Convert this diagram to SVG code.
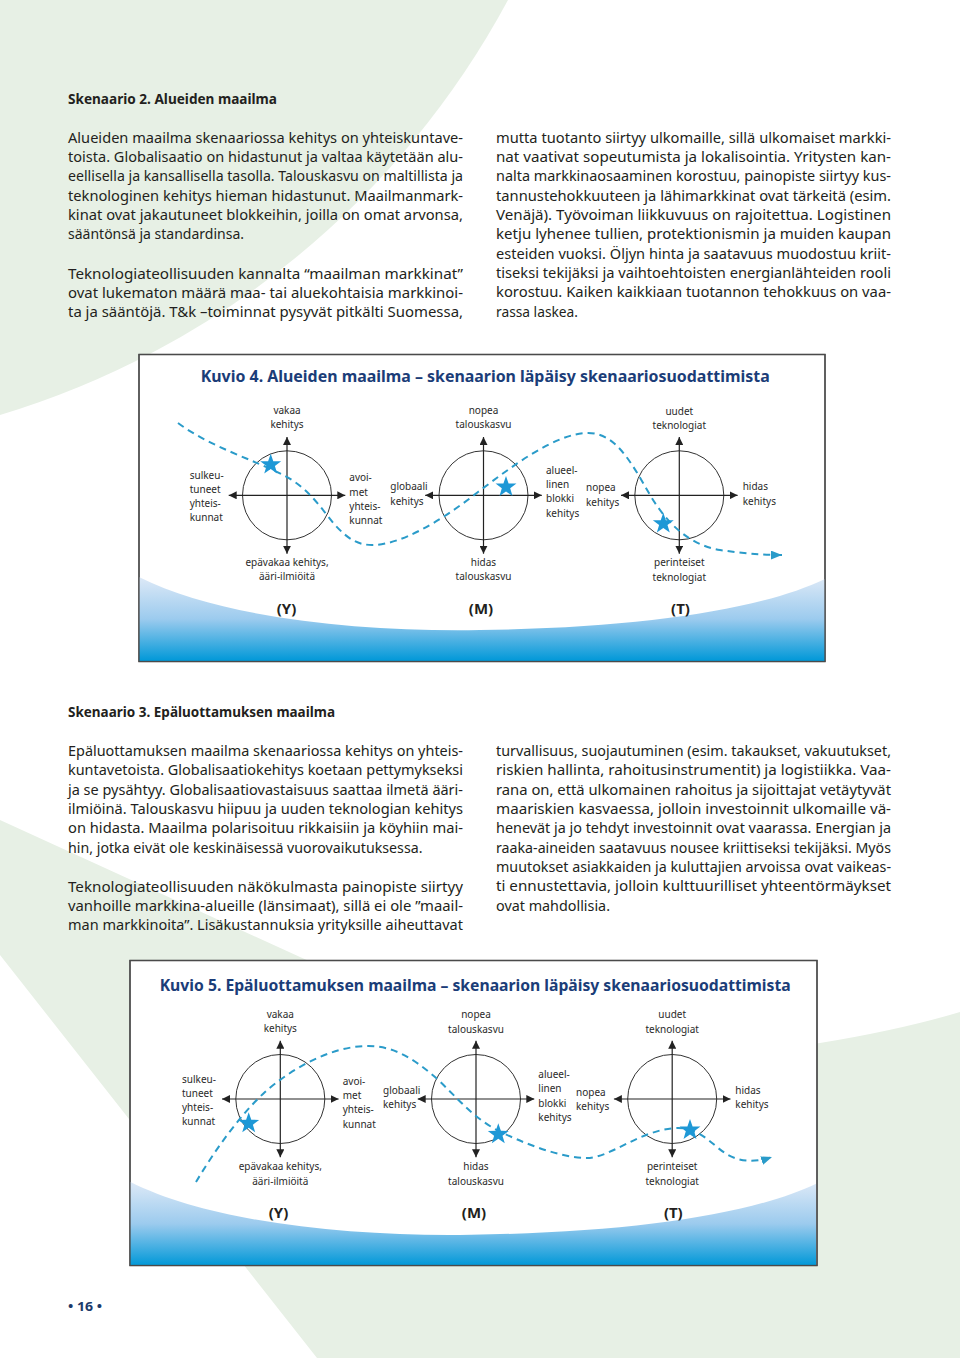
<svg xmlns="http://www.w3.org/2000/svg" width="960" height="1358" viewBox="0 0 960 1358">
<defs>
<style>
.body{font-family:"Noto Sans","Open Sans",sans-serif;font-size:13.5px;fill:#231f20}
.hd{font-weight:bold}
.lbl{font-family:"Noto Sans","Open Sans",sans-serif;font-size:10px;fill:#2a2a2a}
.mid{text-anchor:middle}
.big{font-family:"Noto Sans","Open Sans",sans-serif;font-size:15px;font-weight:bold;fill:#231f20;text-anchor:middle}
.title{font-family:"Noto Sans","Open Sans",sans-serif;font-weight:bold;font-size:16.5px;fill:#1b3d78}
.ax{stroke:#222;stroke-width:1.2;marker-start:url(#ah);marker-end:url(#ah)}
.circ{fill:none;stroke:#333;stroke-width:1}
.dash{fill:none;stroke:#2a9bc9;stroke-width:2;stroke-dasharray:7 5;marker-end:url(#dh)}
.star{fill:#1e98d6}
.box{fill:#fff;stroke:#4a4a4a;stroke-width:1.3}
.green{fill:#e7f0e5}
.pg{font-family:"Noto Sans","Open Sans",sans-serif;font-size:13px;font-weight:bold;fill:#1b3a6b}
</style>
<marker id="ah" viewBox="0 0 8 8" refX="8" refY="4" markerWidth="8" markerHeight="8" markerUnits="userSpaceOnUse" orient="auto-start-reverse"><path d="M0,0 L8,4 L0,8 z" fill="#222"/></marker>
<marker id="dh" viewBox="0 0 10 8" refX="10" refY="4" markerWidth="11" markerHeight="9" markerUnits="userSpaceOnUse" orient="auto"><path d="M0,0 L10,4 L0,8 z" fill="#2a9bc9"/></marker>
<linearGradient id="wave" x1="0" y1="0" x2="0" y2="1">
<stop offset="0" stop-color="#dde9f7"/>
<stop offset="0.5" stop-color="#9ccbee"/>
<stop offset="1" stop-color="#0098d8"/>
</linearGradient>
<path id="star" d="M0,-11 L2.59,-3.56 L10.46,-3.4 L4.19,1.36 L6.47,8.9 L0,4.4 L-6.47,8.9 L-4.19,1.36 L-10.46,-3.4 L-2.59,-3.56 Z"/>
<path id="wv" d="M139,577 C 220,618 360,632 480,630 C 640,628 760,610 825,579 L825,661 L139,661 Z"/>
</defs>

<rect width="960" height="1358" fill="#fff"/>
<g id="background">
<path class="green" d="M0,0 L508,0 A857.7,857.7 0 0 1 0,415 Z"/>
<path class="green" d="M0,820 L300,957 Q560,1080 820,1043 Q900,1030 960,1012 L960,1358 L317,1358 L0,955 Z"/>
</g>

<g id="text-scenario2" class="body">
<text class="hd" x="68" y="104" textLength="209" lengthAdjust="spacingAndGlyphs">Skenaario 2. Alueiden maailma</text>
<text x="68" y="142.7" textLength="395" lengthAdjust="spacingAndGlyphs">Alueiden maailma skenaariossa kehitys on yhteiskuntave-</text>
<text x="68" y="162" textLength="395" lengthAdjust="spacingAndGlyphs">toista. Globalisaatio on hidastunut ja valtaa käytetään alu-</text>
<text x="68" y="181.3" textLength="395" lengthAdjust="spacingAndGlyphs">eellisella ja kansallisella tasolla. Talouskasvu on maltillista ja</text>
<text x="68" y="200.7" textLength="395" lengthAdjust="spacingAndGlyphs">teknologinen kehitys hieman hidastunut. Maailmanmark-</text>
<text x="68" y="220" textLength="395" lengthAdjust="spacingAndGlyphs">kinat ovat jakautuneet blokkeihin, joilla on omat arvonsa,</text>
<text x="68" y="239.3" textLength="176" lengthAdjust="spacingAndGlyphs">sääntönsä ja standardinsa.</text>
<text x="68" y="278.5" textLength="395" lengthAdjust="spacingAndGlyphs">Teknologiateollisuuden kannalta “maailman markkinat”</text>
<text x="68" y="297.8" textLength="395" lengthAdjust="spacingAndGlyphs">ovat lukematon määrä maa- tai aluekohtaisia markkinoi-</text>
<text x="68" y="317.1" textLength="395" lengthAdjust="spacingAndGlyphs">ta ja sääntöjä. T&amp;k –toiminnat pysyvät pitkälti Suomessa,</text>
<text x="496" y="142.7" textLength="395" lengthAdjust="spacingAndGlyphs">mutta tuotanto siirtyy ulkomaille, sillä ulkomaiset markki-</text>
<text x="496" y="162" textLength="395" lengthAdjust="spacingAndGlyphs">nat vaativat sopeutumista ja lokalisointia. Yritysten kan-</text>
<text x="496" y="181.3" textLength="395" lengthAdjust="spacingAndGlyphs">nalta markkinaosaaminen korostuu, painopiste siirtyy kus-</text>
<text x="496" y="200.7" textLength="395" lengthAdjust="spacingAndGlyphs">tannustehokkuuteen ja lähimarkkinat ovat tärkeitä (esim.</text>
<text x="496" y="220" textLength="395" lengthAdjust="spacingAndGlyphs">Venäjä). Työvoiman liikkuvuus on rajoitettua. Logistinen</text>
<text x="496" y="239.3" textLength="395" lengthAdjust="spacingAndGlyphs">ketju lyhenee tullien, protektionismin ja muiden kaupan</text>
<text x="496" y="258.7" textLength="395" lengthAdjust="spacingAndGlyphs">esteiden vuoksi. Öljyn hinta ja saatavuus muodostuu kriit-</text>
<text x="496" y="278" textLength="395" lengthAdjust="spacingAndGlyphs">tiseksi tekijäksi ja vaihtoehtoisten energianlähteiden rooli</text>
<text x="496" y="297.3" textLength="395" lengthAdjust="spacingAndGlyphs">korostuu. Kaiken kaikkiaan tuotannon tehokkuus on vaa-</text>
<text x="496" y="316.7" textLength="82" lengthAdjust="spacingAndGlyphs">rassa laskea.</text>
</g>

<g id="figure4">
<rect class="box" x="139" y="354.5" width="686" height="307"/>
<use href="#wv" fill="url(#wave)"/>
<rect x="139" y="354.5" width="686" height="307" fill="none" stroke="#4a4a4a" stroke-width="1.3"/>
<text class="title" x="200.7" y="381.5" textLength="569" lengthAdjust="spacingAndGlyphs">Kuvio 4. Alueiden maailma – skenaarion läpäisy skenaariosuodattimista</text>
<g id="f4-filterY">
<circle class="circ" cx="287" cy="495.3" r="44.5"/>
<line class="ax" x1="287" y1="437" x2="287" y2="553.7"/>
<line class="ax" x1="228.7" y1="495.3" x2="345.3" y2="495.3"/>
<text class="lbl mid" x="287" y="413.7">vakaa</text>
<text class="lbl mid" x="287" y="428">kehitys</text>
<text class="lbl" x="189.7" y="478.7">sulkeu-</text>
<text class="lbl" x="189.7" y="492.7">tuneet</text>
<text class="lbl" x="189.7" y="507">yhteis-</text>
<text class="lbl" x="189.7" y="521">kunnat</text>
<text class="lbl" x="349.3" y="481.3">avoi-</text>
<text class="lbl" x="349.3" y="495.7">met</text>
<text class="lbl" x="349.3" y="510">yhteis-</text>
<text class="lbl" x="349.3" y="524.3">kunnat</text>
<text class="lbl mid" x="287" y="566">epävakaa kehitys,</text>
<text class="lbl mid" x="287" y="580.3">ääri-ilmiöitä</text>
<text class="big" x="286.5" y="613.7">(Y)</text>
</g>
<g id="f4-filterM">
<circle class="circ" cx="483.5" cy="495.3" r="44.5"/>
<line class="ax" x1="483.5" y1="437" x2="483.5" y2="553.7"/>
<line class="ax" x1="425.2" y1="495.3" x2="541.8" y2="495.3"/>
<text class="lbl mid" x="483.5" y="413.7">nopea</text>
<text class="lbl mid" x="483.5" y="428">talouskasvu</text>
<text class="lbl" x="390.3" y="490.3">globaali</text>
<text class="lbl" x="390.3" y="504.7">kehitys</text>
<text class="lbl" x="546" y="473.7">alueel-</text>
<text class="lbl" x="546" y="488">linen</text>
<text class="lbl" x="546" y="502.3">blokki</text>
<text class="lbl" x="546" y="516.7">kehitys</text>
<text class="lbl mid" x="483.5" y="566">hidas</text>
<text class="lbl mid" x="483.5" y="580.3">talouskasvu</text>
<text class="big" x="481" y="613.7">(M)</text>
</g>
<g id="f4-filterT">
<circle class="circ" cx="679.3" cy="495.3" r="44.5"/>
<line class="ax" x1="679.3" y1="437" x2="679.3" y2="553.7"/>
<line class="ax" x1="621" y1="495.3" x2="737.6" y2="495.3"/>
<text class="lbl mid" x="679.3" y="414.5">uudet</text>
<text class="lbl mid" x="679.3" y="429">teknologiat</text>
<text class="lbl" x="586" y="491.3">nopea</text>
<text class="lbl" x="586" y="505.7">kehitys</text>
<text class="lbl" x="742.7" y="490.3">hidas</text>
<text class="lbl" x="742.7" y="504.7">kehitys</text>
<text class="lbl mid" x="679.3" y="566.3">perinteiset</text>
<text class="lbl mid" x="679.3" y="581">teknologiat</text>
<text class="big" x="680.5" y="613.7">(T)</text>
</g>
<g id="f4-connectors">
<path class="dash" d="M178,423 C 210,447 255,460 285,476 C 310,489 322,510 335,525 C 347,538 357,545 372,545 C 400,545 440,522 478,492 C 510,468 555,433 588,433 C 615,433 630,460 650,495 C 668,525 690,545 720,550 C 740,553 760,555 782,555"/>
</g>
<g id="f4-stars">
<use href="#star" class="star" x="270.7" y="464.7"/>
<use href="#star" class="star" x="506" y="487"/>
<use href="#star" class="star" x="663.3" y="523.7"/>
</g>
</g>

<g id="text-scenario3" class="body">
<text class="hd" x="68" y="716.7" textLength="267" lengthAdjust="spacingAndGlyphs">Skenaario 3. Epäluottamuksen maailma</text>
<text x="68" y="756" textLength="395" lengthAdjust="spacingAndGlyphs">Epäluottamuksen maailma skenaariossa kehitys on yhteis-</text>
<text x="68" y="775.3" textLength="395" lengthAdjust="spacingAndGlyphs">kuntavetoista. Globalisaatiokehitys koetaan pettymykseksi</text>
<text x="68" y="794.7" textLength="395" lengthAdjust="spacingAndGlyphs">ja se pysähtyy. Globalisaatiovastaisuus saattaa ilmetä ääri-</text>
<text x="68" y="814" textLength="395" lengthAdjust="spacingAndGlyphs">ilmiöinä. Talouskasvu hiipuu ja uuden teknologian kehitys</text>
<text x="68" y="833.3" textLength="395" lengthAdjust="spacingAndGlyphs">on hidasta. Maailma polarisoituu rikkaisiin ja köyhiin mai-</text>
<text x="68" y="852.7" textLength="354.5" lengthAdjust="spacingAndGlyphs">hin, jotka eivät ole keskinäisessä vuorovaikutuksessa.</text>
<text x="68" y="891.7" textLength="395" lengthAdjust="spacingAndGlyphs">Teknologiateollisuuden näkökulmasta painopiste siirtyy</text>
<text x="68" y="911" textLength="395" lengthAdjust="spacingAndGlyphs">vanhoille markkina-alueille (länsimaat), sillä ei ole ”maail-</text>
<text x="68" y="930.3" textLength="395" lengthAdjust="spacingAndGlyphs">man markkinoita”. Lisäkustannuksia yrityksille aiheuttavat</text>
<text x="496" y="756" textLength="395" lengthAdjust="spacingAndGlyphs">turvallisuus, suojautuminen (esim. takaukset, vakuutukset,</text>
<text x="496" y="775.3" textLength="395" lengthAdjust="spacingAndGlyphs">riskien hallinta, rahoitusinstrumentit) ja logistiikka. Vaa-</text>
<text x="496" y="794.7" textLength="395" lengthAdjust="spacingAndGlyphs">rana on, että ulkomainen rahoitus ja sijoittajat vetäytyvät</text>
<text x="496" y="814" textLength="395" lengthAdjust="spacingAndGlyphs">maariskien kasvaessa, jolloin investoinnit ulkomaille vä-</text>
<text x="496" y="833.3" textLength="395" lengthAdjust="spacingAndGlyphs">henevät ja jo tehdyt investoinnit ovat vaarassa. Energian ja</text>
<text x="496" y="852.7" textLength="395" lengthAdjust="spacingAndGlyphs">raaka-aineiden saatavuus nousee kriittiseksi tekijäksi. Myös</text>
<text x="496" y="872" textLength="395" lengthAdjust="spacingAndGlyphs">muutokset asiakkaiden ja kuluttajien arvoissa ovat vaikeas-</text>
<text x="496" y="891.3" textLength="395" lengthAdjust="spacingAndGlyphs">ti ennustettavia, jolloin kulttuurilliset yhteentörmäykset</text>
<text x="496" y="910.7" textLength="114" lengthAdjust="spacingAndGlyphs">ovat mahdollisia.</text>
</g>

<g id="figure5">
<rect class="box" x="130" y="960.5" width="687" height="305"/>
<use href="#wv" fill="url(#wave)" transform="translate(-9,604.7)"/>
<rect x="130" y="960.5" width="687" height="305" fill="none" stroke="#4a4a4a" stroke-width="1.3"/>
<text class="title" x="159.7" y="991" textLength="631" lengthAdjust="spacingAndGlyphs">Kuvio 5. Epäluottamuksen maailma – skenaarion läpäisy skenaariosuodattimista</text>
<g id="f5-filterY">
<circle class="circ" cx="280.3" cy="1099" r="44.5"/>
<line class="ax" x1="280.3" y1="1040.7" x2="280.3" y2="1157.3"/>
<line class="ax" x1="222" y1="1099" x2="338.6" y2="1099"/>
<text class="lbl mid" x="280.3" y="1018.3">vakaa</text>
<text class="lbl mid" x="280.3" y="1032.3">kehitys</text>
<text class="lbl" x="182" y="1083.3">sulkeu-</text>
<text class="lbl" x="182" y="1097">tuneet</text>
<text class="lbl" x="182" y="1111">yhteis-</text>
<text class="lbl" x="182" y="1125">kunnat</text>
<text class="lbl" x="342.7" y="1085">avoi-</text>
<text class="lbl" x="342.7" y="1099">met</text>
<text class="lbl" x="342.7" y="1113.3">yhteis-</text>
<text class="lbl" x="342.7" y="1128">kunnat</text>
<text class="lbl mid" x="280.3" y="1170">epävakaa kehitys,</text>
<text class="lbl mid" x="280.3" y="1185">ääri-ilmiöitä</text>
<text class="big" x="278.5" y="1218">(Y)</text>
</g>
<g id="f5-filterM">
<circle class="circ" cx="476" cy="1099" r="44.5"/>
<line class="ax" x1="476" y1="1040.7" x2="476" y2="1157.3"/>
<line class="ax" x1="417.7" y1="1099" x2="534.3" y2="1099"/>
<text class="lbl mid" x="476" y="1018.3">nopea</text>
<text class="lbl mid" x="476" y="1032.5">talouskasvu</text>
<text class="lbl" x="383" y="1094.3">globaali</text>
<text class="lbl" x="383" y="1108.3">kehitys</text>
<text class="lbl" x="538.3" y="1078.3">alueel-</text>
<text class="lbl" x="538.3" y="1092.3">linen</text>
<text class="lbl" x="538.3" y="1106.7">blokki</text>
<text class="lbl" x="538.3" y="1121">kehitys</text>
<text class="lbl mid" x="476" y="1170">hidas</text>
<text class="lbl mid" x="476" y="1185">talouskasvu</text>
<text class="big" x="474" y="1218">(M)</text>
</g>
<g id="f5-filterT">
<circle class="circ" cx="672.2" cy="1099" r="44.5"/>
<line class="ax" x1="672.2" y1="1040.7" x2="672.2" y2="1157.3"/>
<line class="ax" x1="613.9" y1="1099" x2="730.5" y2="1099"/>
<text class="lbl mid" x="672.2" y="1018.3">uudet</text>
<text class="lbl mid" x="672.2" y="1032.7">teknologiat</text>
<text class="lbl" x="576" y="1095.7">nopea</text>
<text class="lbl" x="576" y="1110">kehitys</text>
<text class="lbl" x="735.3" y="1094.3">hidas</text>
<text class="lbl" x="735.3" y="1108.3">kehitys</text>
<text class="lbl mid" x="672.2" y="1170">perinteiset</text>
<text class="lbl mid" x="672.2" y="1185">teknologiat</text>
<text class="big" x="673.3" y="1218">(T)</text>
</g>
<g id="f5-connectors">
<path class="dash" d="M196,1182 C 215,1150 240,1115 265,1092 C 290,1070 330,1046 368,1046 C 395,1046 415,1060 435,1077 C 455,1095 470,1115 495,1129 C 520,1142 560,1158 587,1158 C 610,1158 640,1130 676,1128 C 700,1127 712,1145 725,1153 C 738,1162 755,1163 772,1157"/>
</g>
<g id="f5-stars">
<use href="#star" class="star" x="248.7" y="1123.3"/>
<use href="#star" class="star" x="498.3" y="1134.3"/>
<use href="#star" class="star" x="690" y="1130"/>
</g>
</g>

<text class="pg" x="68" y="1311" textLength="34" lengthAdjust="spacingAndGlyphs">• 16 •</text>
</svg>
